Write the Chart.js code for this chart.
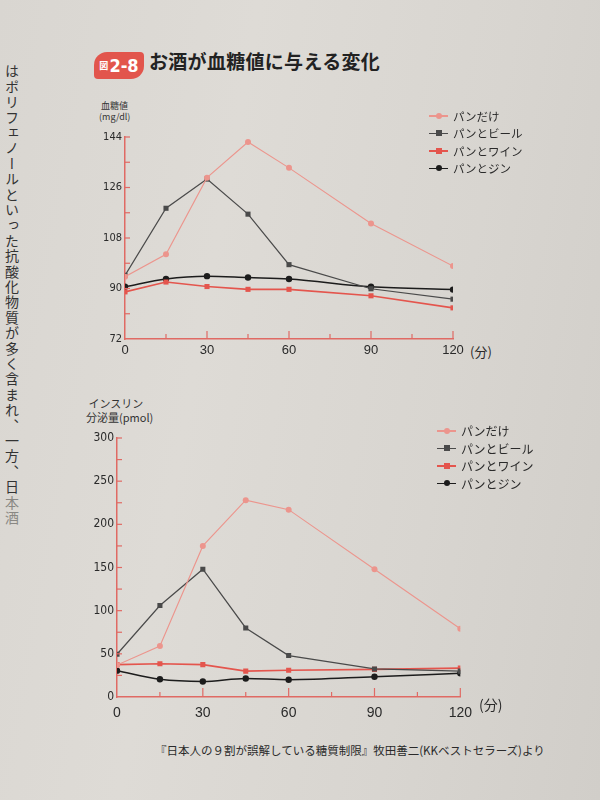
<!DOCTYPE html>
<html lang="ja">
<head>
<meta charset="utf-8">
<script src="https://cdn.jsdelivr.net/npm/chart.js@4.4.1/dist/chart.umd.min.js"></script>
<style>
  html, body {
    margin: 0;
    padding: 0;
  }
  body {
    width: 600px;
    height: 800px;
    position: relative;
    overflow: hidden;
    background: linear-gradient(100deg, #d9d6d1 0%, #dedbd6 35%, #d8d5d0 70%, #d1cec9 100%);
    font-family: "Noto Sans CJK JP", "Noto Sans", sans-serif;
    color: #2a2a2a;
  }
  .abs {
    position: absolute;
  }
  canvas {
    position: absolute;
  }
  #sideText {
    left: 2px;
    top: 64px;
    writing-mode: vertical-rl;
    font-size: 14px;
    letter-spacing: 1.4px;
    color: #333;
  }
  #sideText .fade {
    color: #8a8884;
  }
  #badge {
    left: 94px;
    top: 52px;
    width: 50px;
    height: 27px;
    border-radius: 13px 4px 13px 4px;
    background: #e2554c;
    color: #fff;
    font-weight: bold;
    display: flex;
    align-items: center;
    justify-content: center;
    line-height: 1;
  }
  #badge .zu {
    font-size: 9px;
    margin-right: 1px;
  }
  #badge .num {
    font-size: 18px;
    font-family: "Liberation Sans Narrow", "DejaVu Sans Condensed", sans-serif;
  }
  #title {
    left: 149px;
    top: 47px;
    font-size: 19px;
    font-weight: bold;
    color: #222;
    letter-spacing: 0.3px;
  }
  .axisTitle {
    font-size: 9px;
    line-height: 11px;
    color: #333;
  }
  .unit {
    color: #2a2a2a;
    white-space: nowrap;
  }
  .legend {
    font-size: 11.5px;
    color: #2a2a2a;
  }
  .legend .row {
    display: flex;
    align-items: center;
    height: 17.5px;
  }
  .legend .key {
    position: relative;
    width: 19px;
    height: 10px;
    margin-right: 5px;
  }
  .legend .key .ln {
    position: absolute;
    left: 0;
    right: 0;
    top: 4.5px;
    height: 1.3px;
  }
  .legend .key .mk {
    position: absolute;
    left: 6.5px;
    top: 2px;
    width: 6px;
    height: 6px;
  }
  #source {
    left: 155px;
    top: 742px;
    font-size: 11.5px;
    color: #2a2a2a;
  }
</style>
</head>
<body>
<div id="sideText" class="abs">はポリフェノールといった抗酸化物質が多く含まれ、一方、日<span class="fade">本酒</span></div>

<div id="badge" class="abs"><span class="zu">図</span><span class="num">2-8</span></div>
<div id="title" class="abs">お酒が血糖値に与える変化</div>

<div class="abs axisTitle" style="left:99px; top:100px;">&nbsp;血糖値<br>(mg/dl)</div>
<canvas id="glucoseChart" width="375" height="236" style="left:95px; top:125px;"></canvas>
<div id="glucoseLegend" class="abs legend" style="left:429px; top:107px;"></div>
<div class="abs unit" style="left:470px; top:342px; font-size:13px;">(分)</div>

<div class="abs axisTitle" style="left:86px; top:396px; font-size:11px; line-height:14px;">&nbsp;インスリン<br>分泌量(pmol)</div>
<canvas id="insulinChart" width="400" height="297" style="left:80px; top:426px;"></canvas>
<div id="insulinLegend" class="abs legend" style="left:437px; top:422px; font-size:12px;"></div>
<div class="abs unit" style="left:479px; top:694px; font-size:14px;">(分)</div>

<div id="source" class="abs">『日本人の９割が誤解している糖質制限』牧田善二(KKベストセラーズ)より</div>

<script>
const minutes = [0, 15, 30, 45, 60, 90, 120];
const seriesNames = ["パンだけ", "パンとビール", "パンとワイン", "パンとジン"];

// 血糖値 (mg/dl)
const glucoseBread = [94.2, 102.2, 129.5, 142.2, 133, 113.2, 98];
const glucoseBeer = [94.7, 118.6, 129, 116.5, 98.5, 89.9, 86.2];
const glucoseWine = [88.8, 92.3, 90.7, 89.7, 89.7, 87.4, 83.1];
const glucoseGin = [90.6, 93.4, 94.4, 93.9, 93.4, 90.6, 89.6];

// インスリン分泌量 (pmol)
const insulinBread = [37, 59, 175, 228, 217, 148, 79];
const insulinBeer = [49.5, 106, 148, 80, 48, 32.5, 30];
const insulinWine = [37.5, 38.5, 37.5, 30, 31, 32, 33.5];
const insulinGin = [30.5, 20.5, 18, 21.5, 20, 23.5, 27.5];

const glucoseTickLabels = [72, 90, 108, 126, 144];
const insulinTickLabels = [0, 50, 100, 150, 200, 250, 300];
const minuteTickLabels = [0, 30, 60, 90, 120];

const axisColor = "#e06a64";
const seriesStyles = [
  { color: "#ec958d", point: "circle", radius: 3, width: 1.1, tension: 0 },
  { color: "#4a4a4a", point: "rect", radius: 3.6, width: 1.2, tension: 0 },
  { color: "#e4554d", point: "rect", radius: 3.6, width: 1.6, tension: 0 },
  { color: "#1c1c1c", point: "circle", radius: 3.2, width: 1.5, tension: 0.3 }
];

function makePoints(values) {
  return minutes.map((m, i) => ({ x: m, y: values[i] }));
}

function makeDatasets(seriesList) {
  return seriesList.map((values, i) => {
    const style = seriesStyles[i];
    return {
      label: seriesNames[i],
      data: makePoints(values),
      borderColor: style.color,
      backgroundColor: style.color,
      pointStyle: style.point,
      pointRadius: style.radius,
      pointBorderWidth: 0,
      borderWidth: style.width,
      tension: style.tension,
      cubicInterpolationMode: style.tension ? "monotone" : "default"
    };
  });
}

// tick marks drawn inward from the axes
const innerTicks = {
  id: "innerTicks",
  afterDraw(chart, args, opts) {
    const { ctx, chartArea, scales } = chart;
    ctx.save();
    ctx.strokeStyle = axisColor;
    ctx.lineWidth = 1.2;

    scales.x.ticks.forEach((tick) => {
      if (tick.value === scales.x.min) return;
      const px = scales.x.getPixelForValue(tick.value);
      const len = tick.value % 30 === 0 ? opts.majorLen : opts.minorLen;
      ctx.beginPath();
      ctx.moveTo(px, chartArea.bottom);
      ctx.lineTo(px, chartArea.bottom - len);
      ctx.stroke();
    });

    scales.y.ticks.forEach((tick) => {
      if (tick.value === scales.y.min) return;
      const py = scales.y.getPixelForValue(tick.value);
      ctx.beginPath();
      ctx.moveTo(chartArea.left, py);
      ctx.lineTo(chartArea.left + 5, py);
      ctx.stroke();
    });
    ctx.restore();
  }
};

function buildLegend(el) {
  seriesNames.forEach((name, i) => {
    const style = seriesStyles[i];
    const row = document.createElement("div");
    row.className = "row";
    const radius = style.point === "circle" ? "50%" : "0";
    row.innerHTML =
      `<span class="key"><span class="ln" style="background:${style.color}"></span>` +
      `<span class="mk" style="background:${style.color}; border-radius:${radius}"></span></span>` +
      `<span>${name}</span>`;
    el.appendChild(row);
  });
}

function renderChart(canvasId, seriesList, cfg) {
  const ctx = document.getElementById(canvasId).getContext("2d");
  return new Chart(ctx, {
    type: "line",
    data: { datasets: makeDatasets(seriesList) },
    options: {
      responsive: false,
      animation: false,
      layout: { padding: { top: 12, right: cfg.padRight, left: 0, bottom: 0 } },
      plugins: {
        legend: { display: false },
        tooltip: { enabled: false },
        innerTicks: cfg.innerTicks
      },
      scales: {
        x: {
          type: "linear",
          min: 0,
          max: 120,
          afterFit: (scale) => { scale.height = cfg.xHeight; },
          ticks: {
            stepSize: 15,
            autoSkip: false,
            maxRotation: 0,
            padding: cfg.xPad,
            color: "#2a2a2a",
            font: { family: "Liberation Sans, Arial, sans-serif", size: cfg.xFont },
            callback: (value) => (minuteTickLabels.includes(value) ? String(value) : "")
          },
          grid: { display: true, drawOnChartArea: false, drawTicks: false },
          border: { display: true, color: axisColor, width: 1.5 }
        },
        y: {
          min: cfg.yMin,
          max: cfg.yMax,
          afterFit: (scale) => { scale.width = cfg.yWidth; },
          ticks: {
            stepSize: cfg.yStep,
            autoSkip: false,
            padding: 3,
            color: "#2a2a2a",
            font: { family: "Liberation Sans Narrow, DejaVu Sans Condensed, sans-serif", size: cfg.yFont },
            callback: (value) => (cfg.yLabels.includes(value) ? String(value) : "")
          },
          grid: { display: true, drawOnChartArea: false, drawTicks: false },
          border: { display: true, color: axisColor, width: 1.5 }
        }
      }
    },
    plugins: [innerTicks]
  });
}

buildLegend(document.getElementById("glucoseLegend"));
buildLegend(document.getElementById("insulinLegend"));

renderChart("glucoseChart", [glucoseBread, glucoseBeer, glucoseWine, glucoseGin], {
  yMin: 72,
  yMax: 144,
  yStep: 9,
  yLabels: glucoseTickLabels,
  yWidth: 30,
  yFont: 11,
  xFont: 13,
  xPad: 4,
  xHeight: 22,
  padRight: 17,
  innerTicks: { majorLen: 8, minorLen: 5 }
});

renderChart("insulinChart", [insulinBread, insulinBeer, insulinWine, insulinGin], {
  yMin: 0,
  yMax: 300,
  yStep: 25,
  yLabels: insulinTickLabels,
  yWidth: 37,
  yFont: 12,
  xFont: 14,
  xPad: 8,
  xHeight: 26,
  padRight: 16,
  innerTicks: { majorLen: 9, minorLen: 5 }
});
</script>
</body>
</html>
